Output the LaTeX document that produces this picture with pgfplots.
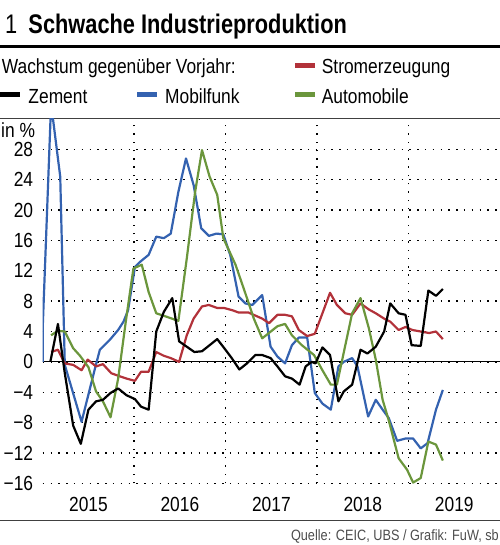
\documentclass[border=0pt]{standalone}
\usepackage{fontspec}
\setmainfont{Liberation Sans}[FakeStretch=0.85]
\newfontfamily\titlefont{Liberation Sans}[FakeStretch=0.81]
\usepackage{pgfplots}
\pgfplotsset{compat=1.18}

\definecolor{cZement}{RGB}{0,0,0}
\definecolor{cMobil}{RGB}{52,98,176}
\definecolor{cStrom}{RGB}{178,50,58}
\definecolor{cAuto}{RGB}{107,150,60}

\newcommand{\lab}{\fontsize{20.5}{24}\selectfont}

\begin{document}
\begin{tikzpicture}[x=1bp,y=1bp]
\path[use as bounding box] (0,0) rectangle (500,-545);

% title
\node[anchor=base west,inner sep=0,font=\titlefont\fontsize{27}{30}\selectfont] at (5,-33.3) {1};
\node[anchor=base west,inner sep=0,font=\titlefont\bfseries\fontsize{27}{30}\selectfont] at (28.3,-33.3) {Schwache Industrieproduktion};
\draw[line width=2.5bp] (0,-46.7) -- (500,-46.7);

% legend
\node[anchor=base west,inner sep=0,font=\lab] at (1.7,-74) {Wachstum gegenüber Vorjahr:};
\draw[cStrom,line width=5bp] (295,-65.7) -- (315,-65.7);
\node[anchor=base west,inner sep=0,font=\lab] at (321.7,-74) {Stromerzeugung};
\draw[cZement,line width=5bp] (0,-94.3) -- (20,-94.3);
\node[anchor=base west,inner sep=0,font=\lab] at (28.3,-103.3) {Zement};
\draw[cMobil,line width=5bp] (137,-94.3) -- (157,-94.3);
\node[anchor=base west,inner sep=0,font=\lab] at (165,-103.3) {Mobilfunk};
\draw[cAuto,line width=5bp] (295,-94.3) -- (315,-94.3);
\node[anchor=base west,inner sep=0,font=\lab] at (321.7,-103.3) {Automobile};

\draw[line width=0.8bp,black!75] (0,-118.5) -- (500,-118.5);
\node[anchor=base west,inner sep=0,font=\lab] at (1,-137.5) {in \%};

\begin{axis}[
    at={(42.7bp,-119bp)}, anchor=north west,
    scale only axis, width=457.3bp, height=364.3bp,
    xmin=0, xmax=60, ymin=-16, ymax=32,
    axis line style={draw=none}, tick style={draw=none},
    xtick={6,18,30,42,54},
    xticklabels={2015,2016,2017,2018,2019},
    minor xtick={12,24,36,48},
    xminorgrids=true, ymajorgrids=true,
    ytick={-16,-12,-8,-4,0,4,8,12,16,20,24,28},
    yticklabels={−16,−12,−8,−4,0,4,8,12,16,20,24,28},
    extra y ticks={0}, extra y tick labels={},
    extra y tick style={grid=major, major grid style={solid, black, line width=1bp}},
    major grid style={black, line width=1.4bp, dash pattern=on 1.4bp off 6.4bp},
    minor grid style={black, line width=1.4bp, dash pattern=on 1.4bp off 6.9bp},
    ticklabel style={font=\lab},
    yticklabel style={anchor=east, inner sep=0pt, xshift=-9.4bp},
    xticklabel style={anchor=north, inner sep=0pt, yshift=-13.4bp},
    every axis plot/.append style={line width=2.2bp, line join=round, mark=none},
]
% Mobilfunk
\addplot[cMobil] coordinates {
(0.0,0) (0.02,5) (1.1,34) (2.3,24.4) (2.9,-0.4) (5.1,-7.9) (6.9,-0.7) (7.5,1.6)
(8.8,2.9) (9.9,4.2) (10.6,5.3) (11.2,6.8) (12.1,12.5) (12.8,13.2) (13.9,14.1)
(14.9,16.5) (15.9,16.3) (16.8,16.9) (17.8,22.4) (18.8,26.8) (19.8,23.3) (20.8,17.6)
(21.8,16.6) (22.8,16.9) (23.7,16.8) (24.6,14.1) (25.7,8.6) (26.6,7.7) (27.5,7.5)
(28.8,8.8) (29.9,2.0) (30.8,0.7) (31.8,-0.2) (32.7,2.2) (33.6,3.2) (34.7,3.2)
(35.7,-4.1) (36.7,-5.5) (37.8,-6.3) (38.8,-0.6) (39.5,0.0) (40.6,0.5) (41.3,-0.6)
(42.7,-7.2) (43.7,-5.0) (44.6,-6.3) (45.4,-7.4) (46.5,-10.4) (47.6,-10.1)
(48.6,-10.1) (49.6,-11.4) (50.5,-10.7) (51.6,-6.3) (52.5,-3.7)
};
% Stromerzeugung
\addplot[cStrom] coordinates {
(1.1,1.3) (2.0,1.6) (2.9,-0.2) (4.0,-0.4) (5.1,-1.1) (5.9,0.3) (7.0,-0.6) (7.9,-0.3)
(9.0,-1.5) (10.1,-1.9) (11.0,-2.2) (12.1,-2.5) (12.9,-1.3) (13.9,-1.3) (14.9,1.3)
(15.9,0.8) (16.8,0.5) (17.9,0.0) (18.9,3.5) (19.8,5.7) (20.9,7.3) (21.8,7.5)
(22.9,7.1) (23.8,7.1) (24.9,6.8) (25.7,6.5) (27.0,6.5) (28.8,5.7) (29.7,5.1)
(30.8,6.2) (31.8,6.2) (32.7,6.0) (33.6,4.2) (34.7,3.4) (35.7,3.7) (36.7,6.4)
(37.7,9.1) (38.6,7.5) (39.7,6.4) (40.6,6.2) (41.7,7.7) (42.8,6.9) (43.7,6.4)
(44.8,5.7) (45.6,5.3) (46.7,4.2) (47.6,4.6) (48.5,4.2) (49.6,4.0) (50.7,3.8)
(51.6,4.0) (52.5,3.0)
};
% Automobile
\addplot[cAuto] coordinates {
(1.1,3.5) (2.0,4.1) (2.9,4.0) (4.0,1.8) (4.9,0.8) (6.0,-0.7) (7.0,-3.9) (7.9,-5.2)
(8.9,-7.3) (9.9,-2.2) (10.9,5.3) (11.9,12.3) (13.0,12.8) (13.9,9.2) (14.9,6.4)
(16.1,6.0) (17.8,5.4) (18.9,13.6) (20.0,22.4) (20.9,27.9) (21.9,24.4) (22.9,22.0)
(23.7,16.3) (25.3,12.8) (26.6,9.0) (27.7,5.7) (28.8,3.1) (30.8,4.7) (31.8,5.0)
(32.7,3.5) (34.0,2.2) (35.6,0.9) (36.7,-1.1) (37.8,-3.0) (38.6,-3.0) (40.6,6.4)
(41.7,8.4) (42.8,4.4) (43.7,0.3) (44.6,-5.0) (45.4,-7.7) (46.7,-12.7) (47.8,-14.2)
(48.6,-15.9) (49.6,-15.3) (50.6,-10.5) (51.6,-10.9) (52.5,-13.0)
};
% Zement
\addplot[cZement] coordinates {
(1.0,0) (2.0,5.0) (2.9,-1.5) (4.0,-8.4) (5.0,-10.8) (6.0,-6.3) (7.0,-5.2) (7.9,-5.0)
(8.9,-4.1) (9.9,-3.5) (11.0,-4.4) (12.1,-4.9) (12.9,-5.9) (13.9,-6.3) (14.9,4.0)
(15.9,6.6) (17.0,8.4) (17.9,2.7) (18.9,2.0) (19.9,1.3) (20.9,1.4) (21.9,2.2)
(22.9,3.0) (23.9,1.7) (24.8,0.5) (25.8,-1.0) (26.8,-0.2) (27.9,0.9) (28.8,0.9)
(29.9,0.5) (30.8,-0.6) (31.8,-1.9) (32.7,-2.2) (33.7,-3.0) (34.5,-0.6) (35.3,0.0)
(35.8,-0.2) (36.7,1.9) (37.7,0.9) (38.8,-5.2) (39.5,-3.9) (40.6,-3.0) (41.7,1.6)
(42.6,1.1) (43.7,2.0) (44.8,4.0) (45.6,7.7) (46.7,6.4) (47.6,6.2) (48.4,2.2)
(49.6,2.1) (50.6,9.4) (51.6,8.7) (52.5,9.6)
};
\end{axis}

\draw[line width=0.8bp,black!75] (0,-520) -- (500,-520);
\node[anchor=base east,inner sep=0,text=black!70,font=\fontsize{15}{18}\selectfont] at (499,-540.7) {Quelle: CEIC, UBS / Grafik: FuW, sb};
\end{tikzpicture}
\end{document}
